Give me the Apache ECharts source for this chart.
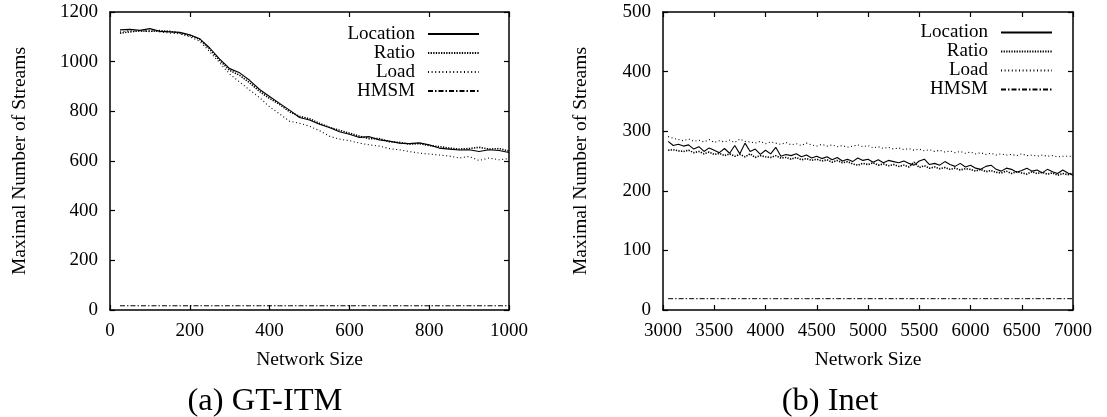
<!DOCTYPE html>
<html>
<head>
<meta charset="utf-8">
<script src="https://cdn.jsdelivr.net/npm/echarts@6/dist/echarts.min.js"></script>
<style>
html,body{margin:0;padding:0;background:#fff;}
#chart{width:1107px;height:417px;}
</style>
</head>
<body>
<div id="chart"></div>
<script>
// ---------- Data: (a) GT-ITM ----------
const gtX = [25,50,75,100,125,150,175,200,225,250,275,300,325,350,375,400,425,450,475,500,525,550,575,600,625,650,675,700,725,750,775,800,825,850,875,900,925,950,975,1000];
const gtLocation = [1128,1130,1126,1133,1122,1120,1118,1108,1092,1055,1010,972,955,925,888,860,832,805,775,765,748,735,718,708,695,698,685,680,672,670,673,665,652,648,644,645,638,645,642,634];
const gtRatio    = [1115,1120,1124,1122,1125,1122,1115,1105,1090,1050,1005,965,945,915,880,852,828,798,780,770,752,735,724,712,700,690,690,678,675,668,670,662,658,652,648,650,655,648,650,640];
const gtLoad     = [1120,1125,1122,1125,1120,1115,1112,1100,1082,1040,995,950,918,886,855,818,790,760,752,740,722,700,688,682,672,665,660,650,645,638,632,628,624,620,612,618,602,612,605,610];
const gtHMSM     = [17,17,17,17,17,17,17,17,17,17,17,17,17,17,17,17,17,17,17,17,17,17,17,17,17,17,17,17,17,17,17,17,17,17,17,17,17,17,17,17];

// ---------- Data: (b) Inet ----------
const inX = [3050,3100,3150,3200,3250,3300,3350,3400,3450,3500,3550,3600,3650,3700,3750,3800,3850,3900,3950,4000,
             4050,4100,4150,4200,4250,4300,4350,4400,4450,4500,4550,4600,4650,4700,4750,4800,4850,4900,4950,5000,
             5050,5100,5150,5200,5250,5300,5350,5400,5450,5500,5550,5600,5650,5700,5750,5800,5850,5900,5950,6000,
             6050,6100,6150,6200,6250,6300,6350,6400,6450,6500,6550,6600,6650,6700,6750,6800,6850,6900,6950,7000];
const inLocation = [283,276,278,275,277,270,274,266,272,268,264,271,263,276,262,280,266,270,261,268,
                    262,273,258,261,259,262,257,260,255,258,254,257,252,256,250,253,249,255,251,253,
                    248,252,247,251,249,247,250,246,243,250,253,244,246,243,249,244,241,246,240,243,
                    238,236,241,243,236,233,238,236,231,234,238,233,235,230,236,232,229,235,230,226];
const inRatio    = [268,269,267,266,268,264,266,262,265,261,263,259,262,258,261,257,262,256,259,257,
                    256,259,255,256,253,256,252,254,251,253,250,252,248,251,247,249,245,243,246,244,
                    247,243,245,242,244,241,243,240,248,239,242,238,240,237,239,236,238,235,237,236,
                    233,236,232,234,231,230,233,229,232,230,228,232,229,231,228,230,226,229,227,230];
const inLoad     = [291,288,286,284,287,283,285,282,286,281,284,282,285,281,287,283,282,280,283,279,
                    282,280,278,281,277,279,276,280,277,275,278,275,277,274,276,273,275,277,274,276,
                    272,274,271,273,270,272,269,271,268,270,267,269,266,268,265,267,264,266,263,265,
                    262,264,261,263,260,262,260,261,259,262,259,260,258,260,258,259,257,258,258,258];
const inHMSM     = [19,19,19,19,19,19,19,19,19,19,19,19,19,19,19,19,19,19,19,19,
                    19,19,19,19,19,19,19,19,19,19,19,19,19,19,19,19,19,19,19,19,
                    19,19,19,19,19,19,19,19,19,19,19,19,19,19,19,19,19,19,19,19,
                    19,19,19,19,19,19,19,19,19,19,19,19,19,19,19,19,19,19,19,19];

const seriesNames = ['Location','Ratio','Load','HMSM'];
const captions = ['(a) GT-ITM','(b) Inet'];
const xTitle = 'Network Size';
const yTitle = 'Maximal Number of Streams';

// ---------- Styles ----------
const FONT = 'Liberation Serif';
const lineStyles = {
  Location: {color:'#000', width:1.1, type:'solid'},
  Ratio:    {color:'#000', width:1.6, type:[1.3,1.3]},
  Load:     {color:'#000', width:1.1, type:[1,2.6]},
  HMSM:     {color:'#000', width:1.0, type:[5,2,1.5,2]}
};

function zip(xs, ys){ return xs.map((x,i)=>[x, ys[i]]); }
const plain = v => String(v);

function baseAxis(extra){
  return Object.assign({
    type:'value',
    axisLine:{show:true, onZero:false, lineStyle:{color:'#000', width:1.5}},
    axisTick:{show:true, inside:true, length:5, lineStyle:{color:'#000', width:1.2}},
    splitLine:{show:false},
    axisLabel:{show:false},
    nameTextStyle:{color:'#000', fontFamily:FONT, fontSize:19.5}
  }, extra);
}
const tickLabel = {show:true, color:'#000', fontFamily:FONT, fontSize:19, margin:12, formatter:plain};

const xAxes = [
  baseAxis({gridIndex:0, position:'bottom', min:0, max:1000, interval:200,
            name:xTitle, nameLocation:'middle', nameGap:40, axisLabel:tickLabel}),
  baseAxis({gridIndex:0, position:'top', min:0, max:1000, interval:200}),
  baseAxis({gridIndex:1, position:'bottom', min:3000, max:7000, interval:500,
            name:xTitle, nameLocation:'middle', nameGap:40, axisLabel:tickLabel}),
  baseAxis({gridIndex:1, position:'top', min:3000, max:7000, interval:500})
];
const yAxes = [
  baseAxis({gridIndex:0, position:'left', min:0, max:1200, interval:200,
            name:yTitle, nameLocation:'middle', nameGap:80, axisLabel:tickLabel}),
  baseAxis({gridIndex:0, position:'right', min:0, max:1200, interval:200}),
  baseAxis({gridIndex:1, position:'left', min:0, max:500, interval:100,
            name:yTitle, nameLocation:'middle', nameGap:72, axisLabel:tickLabel}),
  baseAxis({gridIndex:1, position:'right', min:0, max:500, interval:100})
];

function mkSeries(name, xs, ys, xi, yi){
  return {
    name:name, type:'line', xAxisIndex:xi, yAxisIndex:yi,
    data:zip(xs, ys), showSymbol:false, symbol:'none', animation:false,
    lineStyle:lineStyles[name], itemStyle:{color:'#000'}, silent:true
  };
}

const series = [
  mkSeries('Location', gtX, gtLocation, 0, 0),
  mkSeries('Ratio',    gtX, gtRatio,    0, 0),
  mkSeries('Load',     gtX, gtLoad,     0, 0),
  mkSeries('HMSM',     gtX, gtHMSM,     0, 0),
  mkSeries('Location', inX, inLocation, 2, 2),
  mkSeries('Ratio',    inX, inRatio,    2, 2),
  mkSeries('Load',     inX, inLoad,     2, 2),
  mkSeries('HMSM',     inX, inHMSM,     2, 2)
];

function mkLegend(right, top){
  return {
    orient:'vertical', right:right, top:top, align:'right', padding:0,
    itemWidth:51, itemHeight:19, itemGap:0,
    data:seriesNames.map(n=>({name:n})), selectedMode:false,
    itemStyle:{opacity:0, borderWidth:0},
    textStyle:{color:'#000', fontFamily:FONT, fontSize:19, lineHeight:19, padding:[0,8,0,0]}
  };
}

const chart = echarts.init(document.getElementById('chart'), null, {renderer:'canvas'});
chart.setOption({
  backgroundColor:'#fff',
  animation:false,
  grid:[
    {left:110, top:12, width:399, height:298, containLabel:false},
    {left:663, top:12, width:410, height:298, containLabel:false}
  ],
  xAxis:xAxes,
  yAxis:yAxes,
  legend:[ mkLegend(627, 24.5), mkLegend(54, 23) ],
  graphic:[
    {type:'text', x:265, y:401, style:{text:captions[0], font:'32.5px "Liberation Serif"', fill:'#000', textAlign:'center', textVerticalAlign:'middle'}},
    {type:'text', x:830, y:401, style:{text:captions[1], font:'32.5px "Liberation Serif"', fill:'#000', textAlign:'center', textVerticalAlign:'middle'}}
  ],
  series:series
});
</script>
</body>
</html>
